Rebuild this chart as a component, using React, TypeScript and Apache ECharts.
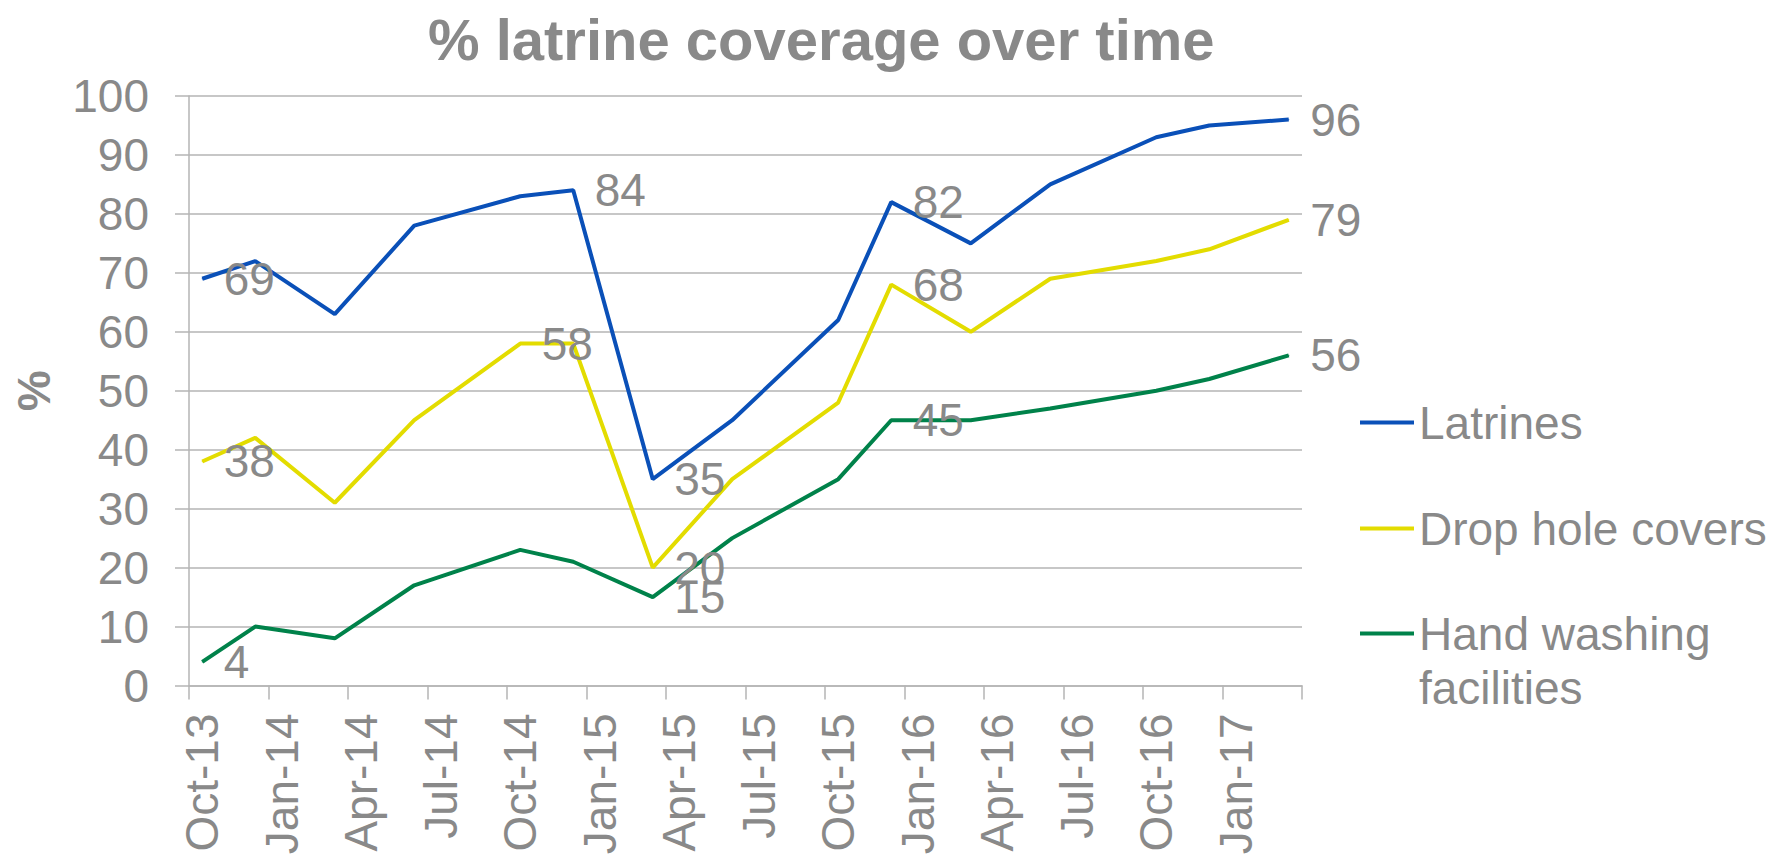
import React, { useEffect, useRef } from "react";
import * as echarts from "echarts";

const months = [
  "Oct-13", "Nov-13", "Dec-13",
  "Jan-14", "Feb-14", "Mar-14", "Apr-14", "May-14", "Jun-14", "Jul-14", "Aug-14", "Sep-14", "Oct-14", "Nov-14", "Dec-14",
  "Jan-15", "Feb-15", "Mar-15", "Apr-15", "May-15", "Jun-15", "Jul-15", "Aug-15", "Sep-15", "Oct-15", "Nov-15", "Dec-15",
  "Jan-16", "Feb-16", "Mar-16", "Apr-16", "May-16", "Jun-16", "Jul-16", "Aug-16", "Sep-16", "Oct-16", "Nov-16", "Dec-16",
  "Jan-17", "Feb-17", "Mar-17",
];

const surveyMonths = [
  "Oct-13", "Dec-13", "Mar-14", "Jun-14", "Oct-14", "Dec-14", "Mar-15", "Jun-15",
  "Oct-15", "Dec-15", "Mar-16", "Jun-16", "Oct-16", "Dec-16", "Mar-17",
];

const latrines = [69, 72, 63, 78, 83, 84, 35, 45, 62, 82, 75, 85, 93, 95, 96];
const dropHoleCovers = [38, 42, 31, 45, 58, 58, 20, 35, 48, 68, 60, 69, 72, 74, 79];
const handWashing = [4, 10, 8, 17, 23, 21, 15, 25, 35, 45, 45, 47, 50, 52, 56];

// indices of points that carry a data label
const latrinesLabelled = [0, 5, 6, 9, 14];
const dropLabelled = [0, 4, 6, 9, 14];
const handLabelled = [0, 6, 9, 14];

const seriesNames = ["Latrines", "Drop hole covers", "Hand washing facilities"];
const seriesColors = ["#0a50b8", "#e3dc00", "#00824a"];

const TEXT = "#898989";
const GRID = "#b5b5b5";
const FONT = "'Liberation Sans', Arial, sans-serif";

function buildData(values: number[], labelled: number[]) {
  return values.map((v, i) => ({
    value: [surveyMonths[i], v],
    label: { show: labelled.indexOf(i) >= 0 },
  }));
}

export default function App() {
  const ref = useRef<HTMLDivElement>(null);

  useEffect(() => {
    if (!ref.current) return;
    const chart = echarts.init(ref.current, null, { renderer: "svg" });
    const allValues = [latrines, dropHoleCovers, handWashing];
    const allLabelled = [latrinesLabelled, dropLabelled, handLabelled];

    const legendBase = {
      orient: "vertical",
      left: 1360,
      padding: 0,
      icon: "rect",
      itemWidth: 54,
      itemHeight: 3.8,
      selectedMode: false,
      itemStyle: { borderWidth: 0 },
      textStyle: { fontSize: 46, lineHeight: 55, color: TEXT, fontFamily: FONT },
    };

    chart.setOption({
      animation: false,
      backgroundColor: "#ffffff",
      title: {
        text: "% latrine coverage over time",
        left: 428,
        top: 10,
        padding: 0,
        textStyle: { fontSize: 58, fontWeight: "bold", color: TEXT, fontFamily: FONT },
      },
      legend: [
        { ...legendBase, top: 395, data: [seriesNames[0]] },
        { ...legendBase, top: 501, data: [seriesNames[1]] },
        {
          ...legendBase,
          top: 551,
          data: [seriesNames[2]],
          formatter: () => "\nHand washing\nfacilities",
        },
      ],
      grid: { left: 189, right: 485, top: 96, bottom: 172.5, containLabel: false },
      xAxis: {
        type: "category",
        data: months,
        boundaryGap: true,
        axisLine: { show: true, lineStyle: { color: GRID, width: 1.5 } },
        axisTick: { show: true, interval: 2, length: 14, lineStyle: { color: GRID, width: 1.5 } },
        axisLabel: {
          interval: 2,
          rotate: 90,
          margin: 28,
          fontSize: 46,
          color: TEXT,
          fontFamily: FONT,
        },
        splitLine: { show: false },
      },
      yAxis: {
        type: "value",
        min: 0,
        max: 100,
        interval: 10,
        name: "%",
        nameLocation: "middle",
        nameRotate: 90,
        nameGap: 132,
        nameTextStyle: { fontSize: 46, fontWeight: "bold", color: TEXT, fontFamily: FONT },
        axisLine: { show: true, lineStyle: { color: GRID, width: 1.5 } },
        axisTick: { show: true, length: 14, lineStyle: { color: GRID, width: 1.5 } },
        axisLabel: { margin: 40, fontSize: 46, color: TEXT, fontFamily: FONT },
        splitLine: { show: true, lineStyle: { color: GRID, width: 1.5 } },
      },
      series: seriesNames.map((name, k) => ({
        name,
        type: "line",
        data: buildData(allValues[k], allLabelled[k]),
        symbol: "circle",
        symbolSize: 1,
        showSymbol: true,
        showAllSymbol: true,
        color: seriesColors[k],
        lineStyle: { color: seriesColors[k], width: 4 },
        itemStyle: { color: seriesColors[k] },
        label: {
          position: "right",
          distance: 21,
          fontSize: 46,
          color: TEXT,
          fontFamily: FONT,
        },
        emphasis: { disabled: true },
      })),
    });

    return () => chart.dispose();
  }, []);

  return (
    <div
      ref={ref}
      style={{ position: "fixed", left: 0, top: 0, width: 1787, height: 858 }}
    />
  );
}
